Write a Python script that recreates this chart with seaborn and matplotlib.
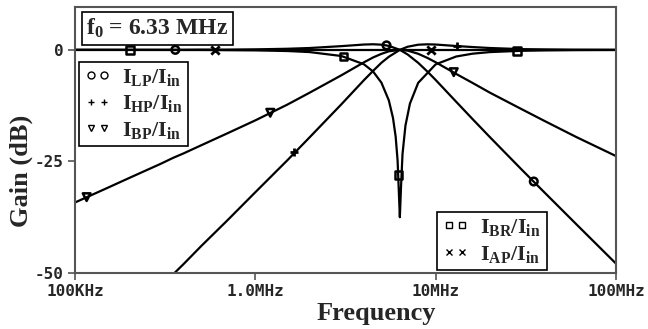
import numpy as np
import pandas as pd
import matplotlib
matplotlib.use("Agg")
import matplotlib.pyplot as plt
from matplotlib.lines import Line2D
import seaborn as sns

# ---------------- data (frequency in MHz, gain in dB) ----------------
freq = [0.1, 0.15, 0.2, 0.3, 0.35, 0.4, 0.5, 0.7, 1.0, 1.5, 2.0, 3.0, 4.0, 4.5,
        5.0, 5.5, 6.33, 7.0, 8.0, 9.0, 10, 13, 16, 20, 30, 40, 60, 100]
lp_gain = [0.0, 0.0, 0.0, 0.0, 0.0, 0.0, 0.03, 0.05, 0.11, 0.24, 0.41, 0.83, 1.19, 1.25,
           1.16, 0.89, 0.0, -1.05, -2.91, -4.87, -6.75, -11.64, -15.49, -19.57, -26.84, -31.9, -39.0, -47.9]
hp_gain = [-72.0, -65.0, -60.0, -53.0, -50.3, -48.0, -44.0, -38.2, -31.9, -24.8, -19.6, -12.2, -6.8, -4.7,
           -2.9, -1.55, 0.0, 0.70, 1.15, 1.24, 1.19, 0.86, 0.63, 0.41, 0.16, 0.10, 0.04, 0.0]
bp_gain = [-34.2, -31.0, -28.7, -25.5, -24.2, -23.2, -21.4, -18.7, -15.8, -12.3, -9.6, -5.7, -2.8, -1.7,
           -0.9, -0.33, 0.0, -0.18, -0.88, -1.81, -2.78, -5.4, -7.4, -9.6, -13.3, -15.9, -19.5, -23.8]

br_freq = [0.1, 0.5, 1.0, 1.5, 2.0, 3.0, 4.0, 4.5, 5.0, 5.5, 5.8, 6.0, 6.15, 6.25, 6.33,
           6.42, 6.55, 6.8, 7.2, 8, 10, 13, 16, 20, 30, 40, 60, 100]
br_gain = [0.0, -0.02, -0.11, -0.26, -0.50, -1.38, -3.23, -4.86, -7.34, -11.33, -15.27, -19.45, -24.8, -31.9, -37.5,
           -31.0, -23.3, -16.96, -12.04, -7.39, -3.25, -1.49, -0.86, -0.50, -0.21, -0.12, -0.05, -0.02]

ap_freq = [0.1, 100]
ap_gain = [0.0, 0.0]

# marker positions along each trace
lp_mk_f = [0.36, 5.34, 35]
lp_mk_g = [0.0, 1.0, -29.5]
hp_mk_f = [1.63, 13.2]
hp_mk_g = [-22.9, 0.9]
bp_mk_f = [0.116, 1.21, 12.6]
bp_mk_g = [-33.0, -14.1, -5.0]
br_mk_f = [0.202, 3.08, 6.23, 28.2]
br_mk_g = [0.0, -1.5, -28.0, -0.25]
ap_mk_f = [0.6, 9.38]
ap_mk_g = [0.0, 0.0]

labels = [r"$\mathbf{I_{LP}/I_{in}}$", r"$\mathbf{I_{HP}/I_{in}}$", r"$\mathbf{I_{BP}/I_{in}}$",
          r"$\mathbf{I_{BR}/I_{in}}$", r"$\mathbf{I_{AP}/I_{in}}$"]
x_ticks = [1e5, 1e6, 1e7, 1e8]
x_tick_labels = ["100KHz", "1.0MHz", "10MHz", "100MHz"]
y_ticks = [-50, -25, 0]
y_tick_labels = ["-50", "-25", "0"]

# ---------------- style ----------------
sns.set_style("ticks")
plt.rcParams["font.family"] = ["Liberation Serif", "DejaVu Serif"]
plt.rcParams["mathtext.fontset"] = "custom"
plt.rcParams["mathtext.rm"] = "Liberation Serif"
plt.rcParams["mathtext.bf"] = "Liberation Serif:bold"
plt.rcParams["mathtext.it"] = "Liberation Serif:italic"

fig = plt.figure(figsize=(6.48, 3.29), dpi=100)
ax = fig.add_axes([75/648, 1-273/329, (616-75)/648, (273-7)/329])

rows = []
for name, fx, gy in [("LP", freq, lp_gain), ("HP", freq, hp_gain), ("BP", freq, bp_gain),
                     ("BR", br_freq, br_gain), ("AP", ap_freq, ap_gain)]:
    for f, g in zip(fx, gy):
        rows.append({"trace": name, "f": f * 1e6, "g": g})
df = pd.DataFrame(rows)

sns.lineplot(data=df, x="f", y="g", hue="trace", palette=["black"] * 5, units="trace",
             estimator=None, sort=True, linewidth=1.6, legend=False, ax=ax)

mk_specs = [
    (lp_mk_f, lp_mk_g, "o", True),
    (hp_mk_f, hp_mk_g, "+", False),
    (bp_mk_f, bp_mk_g, "v", True),
    (br_mk_f, br_mk_g, "s", True),
    (ap_mk_f, ap_mk_g, "x", False),
]
for fx, gy, m, filled in mk_specs:
    mdf = pd.DataFrame({"f": np.array(fx) * 1e6, "g": gy})
    if filled:
        sns.scatterplot(data=mdf, x="f", y="g", marker=m, s=30, facecolors="none",
                        edgecolors="black", linewidths=1.8, ax=ax, zorder=5)
    else:
        sns.scatterplot(data=mdf, x="f", y="g", marker=m, s=36, color="black",
                        linewidths=2.0, ax=ax, zorder=5)

ax.set_xscale("log")
ax.set_xlim(1e5, 1e8)
ax.set_ylim(-50, 9.6)
ax.minorticks_off()
ax.set_xticks(x_ticks)
ax.set_xticklabels(x_tick_labels)
ax.set_yticks(y_ticks)
ax.set_yticklabels(y_tick_labels)
for lab in ax.get_xticklabels() + ax.get_yticklabels():
    lab.set_fontfamily("DejaVu Sans Mono")
    lab.set_fontweight("bold")
    lab.set_fontsize(11.5)
ax.tick_params(axis="both", direction="out", length=5, width=1.2, color="#555555", pad=3)

for sp in ax.spines.values():
    sp.set_color("#555555")
    sp.set_linewidth(1.5)

ax.set_xlabel("Frequency", fontsize=19, fontweight="bold", labelpad=0)
ax.xaxis.set_label_coords(0.557, -0.11)
ax.set_ylabel("Gain (dB)", fontsize=19, fontweight="bold")
ax.yaxis.set_label_coords(-0.078, 0.383)

ax.text(0.021, 0.92, r"$\mathbf{f_0}$ = 6.33 MHz", transform=ax.transAxes, fontsize=17,
        fontweight="bold", va="center", ha="left",
        bbox=dict(boxstyle="square,pad=0.2", facecolor="white", edgecolor="black", linewidth=1.2))

def handle(m, filled):
    if filled:
        return Line2D([], [], linestyle="none", marker=m, markersize=5, markerfacecolor="none",
                      markeredgecolor="black", markeredgewidth=1.0)
    return Line2D([], [], linestyle="none", marker=m, markersize=5, color="black", markeredgewidth=1.0)

leg_kw = dict(numpoints=2, fontsize=16, frameon=True, fancybox=False, framealpha=1,
              edgecolor="black", handlelength=1.2, handletextpad=0.5, labelspacing=0.24,
              borderpad=0.25, borderaxespad=0)
h1 = [handle("o", True), handle("+", False), handle("v", True)]
leg1 = ax.legend(h1, labels[:3], loc="upper left", bbox_to_anchor=(0.007, 0.795), **leg_kw)
leg1.get_frame().set_linewidth(1.2)
ax.add_artist(leg1)
h2 = [handle("s", True), handle("x", False)]
leg2 = ax.legend(h2, labels[3:], loc="lower left", bbox_to_anchor=(0.669, 0.011), **leg_kw)
leg2.get_frame().set_linewidth(1.2)

fig.savefig("out.png", dpi=100)
